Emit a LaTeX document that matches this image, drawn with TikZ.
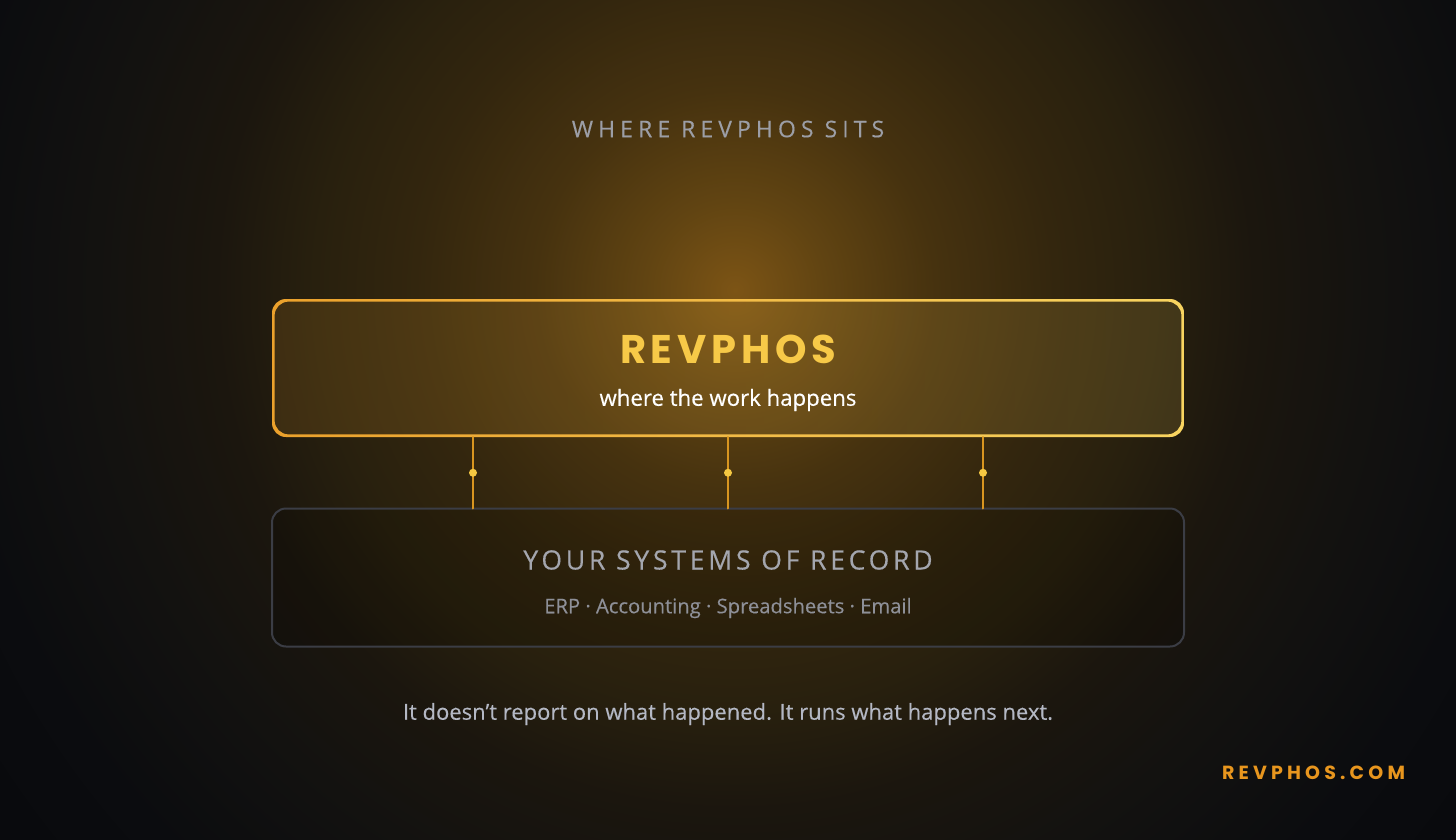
\documentclass[tikz,border=0pt]{standalone}
\usepackage{fontspec}
\setmainfont{Open Sans}
\newfontfamily\popfont{Poppins}
\definecolor{bgdark}{HTML}{090A0D}
\definecolor{glowA}{HTML}{7C5415}
\definecolor{glowB}{HTML}{614412}
\definecolor{glowC}{HTML}{46320F}
\definecolor{glowD}{HTML}{33260E}
\definecolor{glowE}{HTML}{28200E}
\definecolor{glowF}{HTML}{1B160E}
\definecolor{glowG}{HTML}{131210}
\definecolor{glowH}{HTML}{0B0C0F}
\definecolor{revorange}{HTML}{EBA12C}
\definecolor{revyellow}{HTML}{F8D460}
\definecolor{revgold}{HTML}{F7C948}
\definecolor{linkc}{HTML}{D89520}
\definecolor{dotc}{HTML}{F5C842}
\definecolor{greyline}{HTML}{3B3D45}
\definecolor{kickc}{HTML}{9C9EA6}
\definecolor{recc}{HTML}{A4A6AE}
\definecolor{listc}{HTML}{8E9098}
\definecolor{tagc}{HTML}{B4B8C4}
\definecolor{urlc}{HTML}{E8961E}
\pgfdeclareradialshading{glow}{\pgfpoint{0bp}{0bp}}{color(0bp)=(glowA); color(2.5bp)=(glowB); color(5.56bp)=(glowC); color(8.89bp)=(glowD); color(11.67bp)=(glowE); color(14.44bp)=(glowF); color(17.78bp)=(glowG); color(21.94bp)=(glowH); color(25bp)=(bgdark); color(50bp)=(bgdark)}
\tikzset{
  kicker/.style={text=kickc,font=\fontsize{11.5}{13}\selectfont\addfontfeature{LetterSpace=22,FakeBold=0.3}},
  brand/.style={text=revgold,font=\popfont\bfseries\fontsize{20}{24}\selectfont\addfontfeature{LetterSpace=12}},
  sub/.style={text=white,font=\fontsize{11.1}{13}\selectfont\addfontfeature{FakeBold=0.5}},
  rec/.style={text=recc,font=\fontsize{13.3}{15}\selectfont\addfontfeature{LetterSpace=14,FakeBold=0.3}},
  list/.style={text=listc,font=\fontsize{10.1}{12}\selectfont\addfontfeature{FakeBold=0.3}},
  tagline/.style={text=tagc,font=\fontsize{11}{13}\selectfont\addfontfeature{FakeBold=0.3}},
  url/.style={text=urlc,font=\popfont\bfseries\fontsize{9.5}{11}\selectfont\addfontfeature{LetterSpace=22}},
  panel/.style={minimum width=456pt,minimum height=69pt,rounded corners=7pt,outer sep=0,inner sep=0},
  link/.style={linkc,line width=1pt},
  dot/.style={circle,fill=dotc,minimum size=4pt,inner sep=0}
}
\begin{document}
\begin{tikzpicture}[x=0.5pt,y=-0.5pt,line join=round,line cap=round]
	\useasboundingbox (0,0) rectangle (1456,840);
	\clip (0,0) rectangle (1456,840);
	% background glow
	\fill[bgdark] (0,0) rectangle (1456,840);
	\shade[shading=glow] (-165,-610) rectangle (1635,1190);
	% boxes
	\node[panel,shade,left color=revorange,right color=revyellow,fill opacity=0.14](rev) at (728,368){};
	\shade[left color=revorange,right color=revyellow,even odd rule,rounded corners=7pt]
	(rev.north west) rectangle (rev.south east)
	([shift={(1.3pt,-1.3pt)}]rev.north west) rectangle ([shift={(-1.3pt,1.3pt)}]rev.south east);
	\node[panel,draw=greyline,line width=1pt,fill=black,fill opacity=0.15,draw opacity=1](sor) at (728,577.5){};
	% texts
	\path (728,129)node[kicker](where){WHERE REVPHOS SITS};
	\path (rev.center)++(0,-19)node[brand](revname){REVPHOS}
	(rev.center)++(0,32)node[sub](revsub){where the work happens};
	\path (sor.center)++(0,-17.5)node[rec](recname){YOUR SYSTEMS OF RECORD}
	(sor.center)++(0,30.5)node[list](reclist){ERP · Accounting · Spreadsheets · Email};
	\path (728,714)node[tagline](tag){It doesn’t report on what happened. It runs what happens next.};
	\path (1412,773)node[url,anchor=east](site){REVPHOS.COM};
	% connectors
	\foreach \dx in {-127.5pt,0pt,127.5pt}
	\draw[link]([xshift=\dx]rev.south)--([xshift=\dx]sor.north) node[midway,dot]{};
\end{tikzpicture}
\end{document}
